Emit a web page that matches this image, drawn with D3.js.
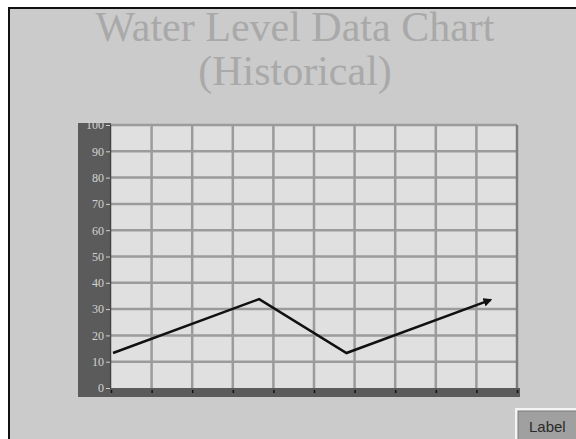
<!DOCTYPE html>
<html>
<head>
<meta charset="utf-8">
<script src="https://cdn.jsdelivr.net/npm/d3@7"></script>
<style>
  html, body { margin:0; padding:0; background:#ffffff; }
  svg { display:block; }
</style>
</head>
<body>
<svg id="chart"></svg>
<script>
/*************** data *****************/
var titleLines = ["Water Level Data Chart", "(Historical)"];
var yTickValues = [0, 10, 20, 30, 40, 50, 60, 70, 80, 90, 100];
var xTickValues = [0, 10, 20, 30, 40, 50, 60, 70, 80, 90, 100];
var levelX = [0.5, 36.5, 58, 93.5];   // position along the x axis (0-100)
var levelY = [13.3, 33.8, 13.3, 33.5]; // water level
var buttonText = "Label";
/*************** end data *************/

var width = 576,
	height = 439,
	plot = {left:111, right:517, top:125, bottom:388},
	bg = "#cbcbcb",
	panel = "#5b5b5b";

var svg = d3.select("#chart")
	.attr("width", width)
	.attr("height", height);

// outer frame (the window edge)
svg.append("rect")
	.attr("x", 9).attr("y", 8)
	.attr("width", width + 20).attr("height", height + 20)
	.attr("fill", bg)
	.attr("stroke", "#111")
	.attr("stroke-width", 2);

// title
svg.append("g").selectAll("text")
	.data(titleLines)
	.enter().append("text")
		.attr("x", 295)
		.attr("y", function(d, i) { return 41 + i * 44; })
		.attr("text-anchor", "middle")
		.style("font-family", "'Liberation Serif', 'Times New Roman', serif")
		.style("font-size", "42px")
		.attr("fill", "#a9a9a9")
		.text(function(d) { return d; });

/*********** scales ***********/
var x = d3.scaleLinear().domain([0, 100]).range([plot.left, plot.right]);
var y = d3.scaleLinear().domain([0, 100]).range([plot.bottom, plot.top]);

// dark axis panels
svg.append("rect")
	.attr("x", 78).attr("y", 123)
	.attr("width", plot.left - 78).attr("height", 397 - 123)
	.attr("fill", panel);
svg.append("rect")
	.attr("x", 78).attr("y", plot.bottom)
	.attr("width", 520 - 78).attr("height", 9)
	.attr("fill", panel);

// plot area
svg.append("rect")
	.attr("x", plot.left).attr("y", plot.top)
	.attr("width", plot.right - plot.left).attr("height", plot.bottom - plot.top)
	.attr("fill", "#e0e0e0");

// grid
var grid = svg.append("g").attr("class", "grid");
grid.selectAll("line.h")
	.data(yTickValues.slice(1))
	.enter().append("line")
		.attr("class", "h")
		.attr("x1", plot.left).attr("x2", plot.right)
		.attr("y1", function(d) { return y(d); })
		.attr("y2", function(d) { return y(d); })
		.attr("stroke", "#9b9b9b")
		.attr("stroke-width", 2.5);
grid.selectAll("line.v")
	.data(xTickValues.slice(1))
	.enter().append("line")
		.attr("class", "v")
		.attr("x1", function(d) { return x(d); })
		.attr("x2", function(d) { return x(d); })
		.attr("y1", plot.top).attr("y2", plot.bottom)
		.attr("stroke", function(d) { return d === 100 ? "#7f7f7f" : "#9b9b9b"; })
		.attr("stroke-width", 2.5);

// y axis
var yAxis = d3.axisLeft(y)
	.tickValues(yTickValues)
	.tickSize(4)
	.tickPadding(2)
	.tickFormat(d3.format("d"));
var yg = svg.append("g")
	.attr("transform", "translate(" + (plot.left - 1) + ",0)")
	.call(yAxis);
yg.select(".domain").attr("stroke", "#444").attr("stroke-width", 1.5);
yg.selectAll(".tick line").attr("stroke", "#cfcfcf");
yg.selectAll(".tick text")
	.attr("fill", "#d2d2d2")
	.style("font-family", "'Liberation Serif', serif")
	.style("font-size", "12px");

// x axis (ticks only, no labels)
var xAxis = d3.axisBottom(x)
	.tickValues(xTickValues)
	.tickSize(3)
	.tickFormat("");
var xg = svg.append("g")
	.attr("transform", "translate(0," + (plot.bottom + 2) + ")")
	.call(xAxis);
xg.select(".domain").remove();
xg.selectAll(".tick line").attr("stroke", "#111").attr("stroke-width", 1.5);

// arrow marker
svg.append("defs").append("marker")
	.attr("id", "arrow")
	.attr("viewBox", "0 0 10 10")
	.attr("refX", 8).attr("refY", 5)
	.attr("markerWidth", 3.5).attr("markerHeight", 3.5)
	.attr("markerUnits", "strokeWidth")
	.attr("orient", "auto")
	.append("path")
		.attr("d", "M0,0L10,5L0,10z")
		.attr("fill", "#111");

// series line
var line = d3.line()
	.x(function(d) { return x(d[0]); })
	.y(function(d) { return y(d[1]); });
svg.append("path")
	.datum(d3.zip(levelX, levelY))
	.attr("d", line)
	.attr("fill", "none")
	.attr("stroke", "#111")
	.attr("stroke-width", 2.5)
	.attr("stroke-linejoin", "miter")
	.attr("marker-end", "url(#arrow)");

// label button
var btn = svg.append("g").attr("transform", "translate(515,408)");
btn.append("rect")
	.attr("x", 0).attr("y", 0)
	.attr("width", 70).attr("height", 40)
	.attr("fill", "#f4f4f4");
btn.append("rect")
	.attr("x", 3).attr("y", 3)
	.attr("width", 70).attr("height", 40)
	.attr("fill", "#a0a0a0")
	.attr("stroke", "#7a7a7a")
	.attr("stroke-width", 1);
btn.append("text")
	.attr("x", 14).attr("y", 24)
	.style("font-family", "'Liberation Sans', Arial, sans-serif")
	.style("font-size", "15px")
	.attr("fill", "#2a2a2a")
	.text(buttonText);
</script>
</body>
</html>
